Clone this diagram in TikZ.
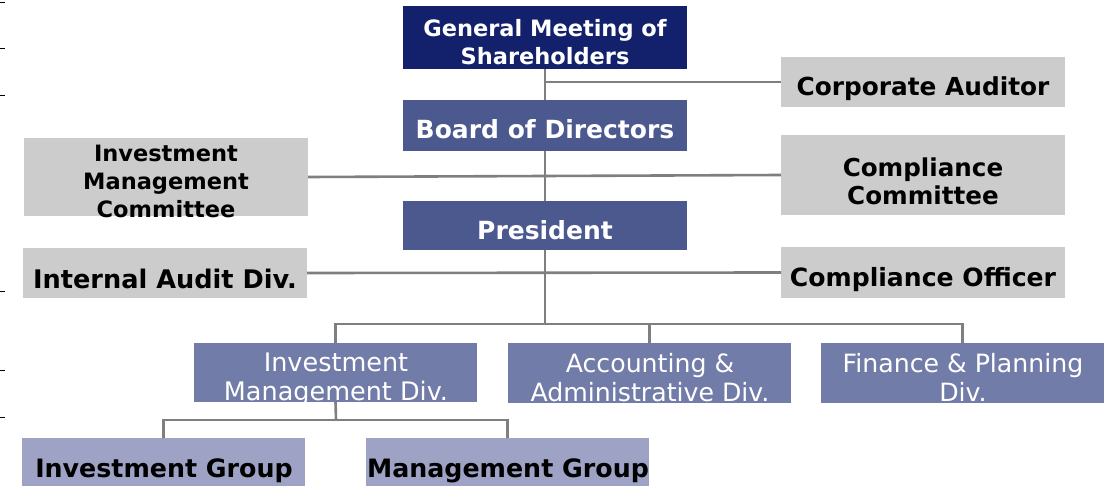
\documentclass[tikz,border=0pt]{standalone}
\usepackage{fontspec}
\setmainfont{DejaVu Sans}
\definecolor{navy}{HTML}{13206B}
\definecolor{board}{HTML}{4B598F}
\definecolor{divc}{HTML}{727CA8}
\definecolor{grpc}{HTML}{9EA3C5}
\definecolor{grayc}{HTML}{CCCCCC}
\definecolor{linec}{HTML}{7F7F7F}
\tikzset{
  box/.style={draw=none, inner sep=0pt, outer sep=0pt, anchor=north west},
  txt/.style={inner sep=0pt, outer sep=0pt, anchor=base, align=center},
  wb/.style={txt, text=white, font={\fontsize{#1}{28}\selectfont\bfseries}},
  wr/.style={txt, text=white, font={\fontsize{#1}{28.5}\selectfont}},
  kb/.style={txt, text=black, font={\fontsize{#1}{28}\selectfont\bfseries}},
  conn/.style={draw=linec, line width=2.6pt},
  tick/.style={draw=black, line width=1pt}
}
\begin{document}
\begin{tikzpicture}[x=1pt, y=-1pt]
\useasboundingbox (0,0) rectangle (1110,486);
% boxes
\node[box, fill=navy, minimum width=284, minimum height=63] (gm) at (403,6) {};
\node[box, fill=board, minimum width=284, minimum height=51] (bd) at (403,100) {};
\node[box, fill=board, minimum width=284, minimum height=49] (pr) at (403,201) {};
\node[box, fill=grayc, minimum width=284, minimum height=50] (ca) at (781,57) {};
\node[box, fill=grayc, minimum width=284, minimum height=80] (cc) at (781,135) {};
\node[box, fill=grayc, minimum width=284, minimum height=51] (co) at (781,247) {};
\node[box, fill=grayc, minimum width=284, minimum height=78] (imc) at (24,138) {};
\node[box, fill=grayc, minimum width=284, minimum height=50] (ia) at (23,248) {};
\node[box, fill=divc, minimum width=283, minimum height=59] (imd) at (194,343) {};
\node[box, fill=divc, minimum width=283, minimum height=60] (aad) at (508,343) {};
\node[box, fill=divc, minimum width=283, minimum height=60] (fpd) at (821,343) {};
\node[box, fill=grpc, minimum width=283, minimum height=48] (ig) at (22,438) {};
\node[box, fill=grpc, minimum width=283, minimum height=48] (mg) at (366,438) {};
% connectors
\coordinate (j1) at (545,82);
\coordinate (br) at (545,324);
\coordinate (br2) at (336,420);
\draw[conn] (gm.south) -- (bd.north);
\draw[conn] (bd.south) -- (pr.north);
\draw[conn] (pr.south) -- (br);
\draw[conn] (j1) -- (ca.west);
\draw[conn] (imc.east) -- (cc.west);
\draw[conn] (ia.east) -- (co.west);
\draw[conn] (imd.north) |- (fpd.north |- br) -- (fpd.north);
\draw[conn] (aad.north) -- (aad.north |- br);
\draw[conn] (imd.south) -- (br2);
\draw[conn] (ig.north) |- (mg.north |- br2) -- (mg.north);
% texts (base = baseline of the last line)
\node[wb=22.5] (gm-t) at (545,65) {General Meeting of\\Shareholders};
\node[wb=25] (bd-t) at (545,139) {Board of Directors};
\node[wb=25] (pr-t) at (545,240) {President};
\node[kb=24.8] (ca-t) at (923,96) {Corporate Auditor};
\node[kb=24.6] (cc-t) at (923,205) {Compliance\\Committee};
\node[kb=25.1] (co-t) at (923,286) {Compliance Officer};
\node[kb=22.5] (imc-t) at (166,218) {Investment\\Management\\Committee};
\node[kb=25.6] (ia-t) at (165,288) {Internal Audit Div.};
\node[wr=25.5] (imd-t) at (336,400) {Investment\\Management Div.};
\node[wr=25.2] (aad-t) at (650,401) {Accounting \&\\Administrative Div.};
\node[wr=25.2] (fpd-t) at (963,401) {Finance \& Planning\\Div.};
\node[kb=25.3] (ig-t) at (164,477) {Investment Group};
\node[kb=25.3] (mg-t) at (508,477) {Management Group};
% edge ticks
\draw[tick] (0,3) -- (5,3);
\draw[tick] (0,49) -- (5,49);
\draw[tick] (0,96) -- (5,96);
\draw[tick] (0,291) -- (5,291);
\draw[tick] (0,370) -- (5,370);
\draw[tick] (0,417) -- (5,417);
\end{tikzpicture}
\end{document}
